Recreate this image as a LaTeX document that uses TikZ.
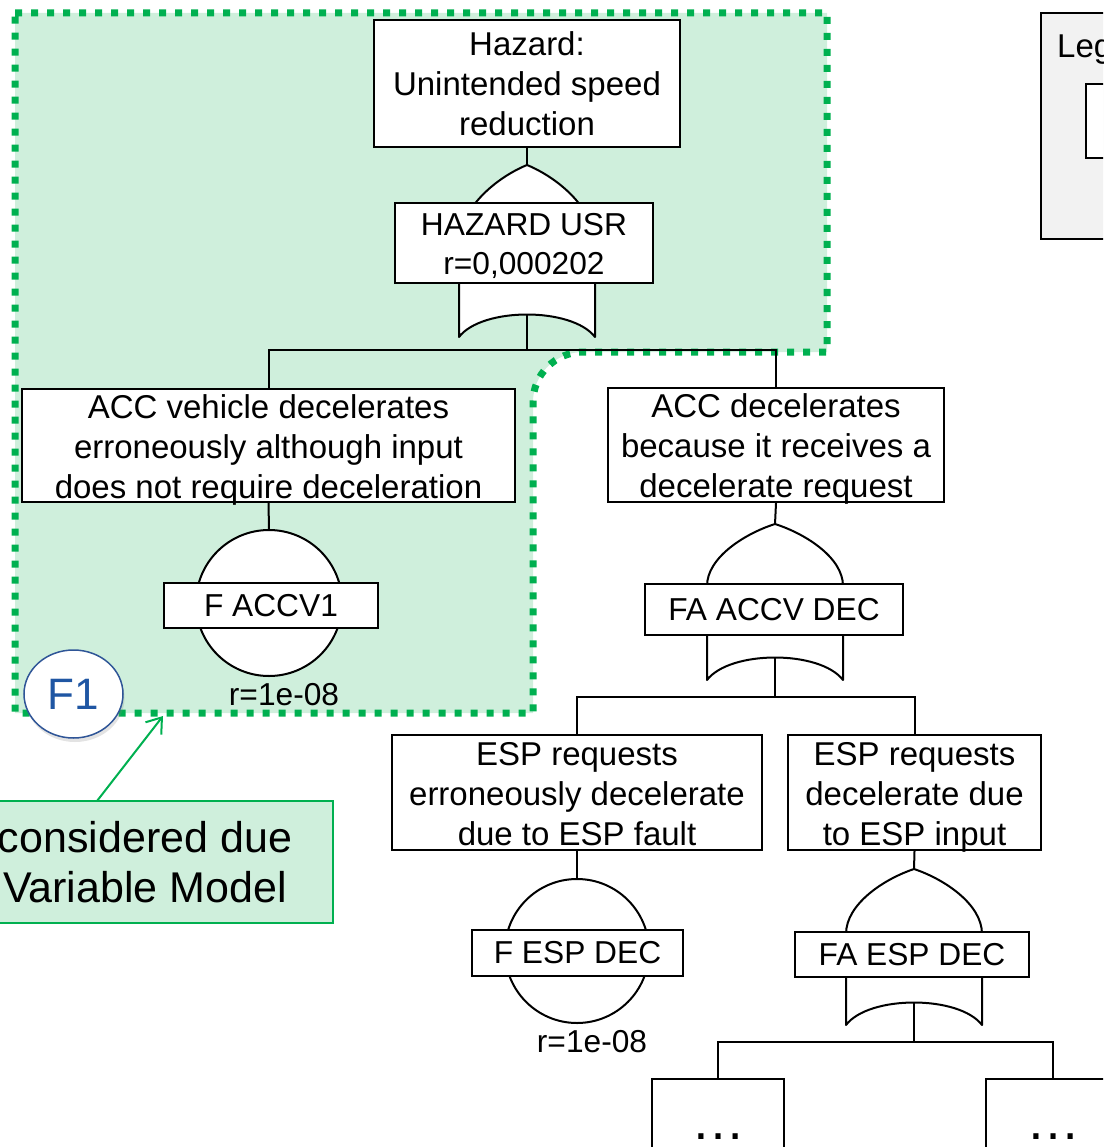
\documentclass[tikz,border=0pt]{standalone}
\usepackage{fontspec}
\setmainfont{Liberation Sans}
\usetikzlibrary{shapes.geometric,arrows.meta,shadows}

\definecolor{zonefill}{HTML}{CFEFDC}
\definecolor{zonegreen}{HTML}{00B050}
\definecolor{legendgray}{HTML}{F2F2F2}
\definecolor{tagblue}{HTML}{1F56A3}
\definecolor{tagedge}{HTML}{2F5597}

% OR gate: name, centre x, tip y, arch height, bottom y
\newcommand{\ftaOrGate}[5]{%
  \draw[gateline] (#2,#3)
    .. controls ({#2-30},{#3+#4*10/65}) and ({#2-68},{#3+#4*35/65}) .. ({#2-68},{#3+#4})
    -- ({#2-68},#5)
    .. controls ({#2-45},{#5-30}) and ({#2+45},{#5-30}) .. ({#2+68},#5)
    -- ({#2+68},{#3+#4})
    .. controls ({#2+68},{#3+#4*35/65}) and ({#2+30},{#3+#4*10/65}) .. cycle;
  \coordinate (#1-in) at (#2,#3);
  \coordinate (#1-out) at (#2,{#5-22.5});
}

\tikzset{
  descbox/.style={draw, line width=2pt, fill=white, align=center, inner sep=0pt,
    font=\fontsize{33pt}{40pt}\selectfont, text height=105pt, text depth=0pt},
  tagbox/.style={draw, line width=2pt, fill=white, align=center, inner sep=0pt,
    font=\fontsize{31.7pt}{39pt}\selectfont},
  morebox/.style={draw, line width=2pt, fill=white, inner sep=0pt,
    font=\fontsize{54pt}{60pt}\selectfont},
  eventcircle/.style={circle, draw, line width=2pt, fill=white, inner sep=0pt, minimum size=146pt},
  gateline/.style={draw, line width=2pt, fill=white, line join=round},
  link/.style={line width=2pt},
  ratelabel/.style={inner sep=0pt, font=\fontsize{31.7pt}{38pt}\selectfont},
  zone/.style={fill=zonefill, draw=zonegreen, line width=7pt, dash pattern=on 7pt off 9pt},
}

\begin{document}
\begin{tikzpicture}[x=1pt,y=-1pt]
\useasboundingbox (0,0) rectangle (1103,1147);
\clip (0,0) rectangle (1103,1147);

% shaded scope of the variable model
\path[zone] (15,13) -- (827,13) -- (827,352) -- (583,352)
  .. controls (555.4,352) and (533,374.4) .. (533,402)
  -- (533,713) -- (15,713) -- cycle;

% gates
\ftaOrGate{g1}{527}{165}{80}{337}
\ftaOrGate{g2}{775}{524}{62}{680}
\ftaOrGate{g3}{914}{869}{65}{1025}

% basic events
\node[eventcircle] (ev1) at (269,603) {};
\node[eventcircle, minimum size=144pt] (ev2) at (577,951) {};

% event descriptions
\node[descbox, minimum width=306pt, minimum height=127pt] (haz) at (527,83.5)
  {Hazard:\\Unintended speed\\reduction};
\node[tagbox, minimum width=258pt, minimum height=80pt, text height=66pt, text depth=3pt]
  (g1tag) at (524,243) {HAZARD USR\\r=0,000202};
\node[descbox, minimum width=493pt, minimum height=113pt] (acc1) at (268.5,445.5)
  {ACC vehicle decelerates\\erroneously although input\\does not require deceleration};
\node[descbox, minimum width=336pt, minimum height=114pt] (acc2) at (776,445)
  {ACC decelerates\\because it receives a\\decelerate request};
\node[tagbox, minimum width=214pt, minimum height=45pt] (ev1tag) at (271,605.5) {F ACCV1};
\node[tagbox, minimum width=258pt, minimum height=51pt] (g2tag) at (774,609.5) {FA ACCV DEC};
\node[descbox, minimum width=370pt, minimum height=115pt] (esp1) at (577,792.5)
  {ESP requests\\erroneously decelerate\\due to ESP fault};
\node[descbox, minimum width=253pt, minimum height=115pt] (esp2) at (914.5,792.5)
  {ESP requests\\decelerate due\\to ESP input};
\node[tagbox, minimum width=211pt, minimum height=46pt] (ev2tag) at (577.5,953) {F ESP DEC};
\node[tagbox, minimum width=234pt, minimum height=45pt] (g3tag) at (912,954.5) {FA ESP DEC};
\node[morebox, minimum width=132pt, minimum height=116pt] (more1) at (718,1137) {…};
\node[morebox, minimum width=134pt, minimum height=116pt] (more2) at (1053,1137) {…};

% rates of the basic events
\node[ratelabel] (ev1rate) at (284,695) {r=1e-08};
\node[ratelabel] (ev2rate) at (592,1042) {r=1e-08};

% tree connectors
\coordinate (j1) at (527,350);
\coordinate (j2) at (775,697);
\coordinate (j3) at (914,1042);
\draw[link] (haz.south) -- (g1-in);
\draw[link] (g1-out) -- (j1);
\draw[link] (acc1.north) |- (j1);
\draw[link] (acc2.north) |- (j1);
\draw[link] (acc1.south) -- (ev1.north);
\draw[link] (acc2.south) -- (g2-in);
\draw[link] (g2-out) -- (j2);
\draw[link] (esp1.north) |- (j2);
\draw[link] (esp2.north) |- (j2);
\draw[link] (esp1.south) -- (ev2.north);
\draw[link] (esp2.south) -- (g3-in);
\draw[link] (g3-out) -- (j3);
\draw[link] (more1.north) |- (j3);
\draw[link] (more2.north) |- (j3);

% scope tag
\node[ellipse, draw=tagedge, line width=1.5pt, fill=white, inner sep=0pt,
  minimum width=99pt, minimum height=88pt, text=tagblue,
  font=\fontsize{44pt}{50pt}\selectfont,
  drop shadow={shadow xshift=1.5pt, shadow yshift=-4pt, opacity=0.22}] (f1) at (73.5,694) {F1};

% note on the model scope
\node[draw=zonegreen, line width=2pt, fill=zonefill, align=center, inner sep=0pt,
  minimum width=376pt, minimum height=122pt,
  font=\fontsize{43pt}{50pt}\selectfont] (note) at (145,862)
  {considered due\\Variable Model};
\coordinate (notepin) at (97,801);
\coordinate (zonepin) at (163,716);
\draw[zonegreen, line width=2pt, -{Straight Barb[length=14pt, width=20pt]}] (notepin) -- (zonepin);

% legend
\node[draw, line width=2pt, fill=legendgray, anchor=north west, inner sep=0pt,
  minimum width=120pt, minimum height=226pt] (legend) at (1040,12) {};
\node[draw, line width=2pt, fill=white, anchor=north west, inner sep=0pt,
  minimum width=80pt, minimum height=74pt] (legendkey) at (1085,83) {};
\node[anchor=base west, inner sep=0pt, font=\fontsize{33pt}{40pt}\selectfont]
  (legendtitle) at (1057,58) {Legend};
\end{tikzpicture}
\end{document}
